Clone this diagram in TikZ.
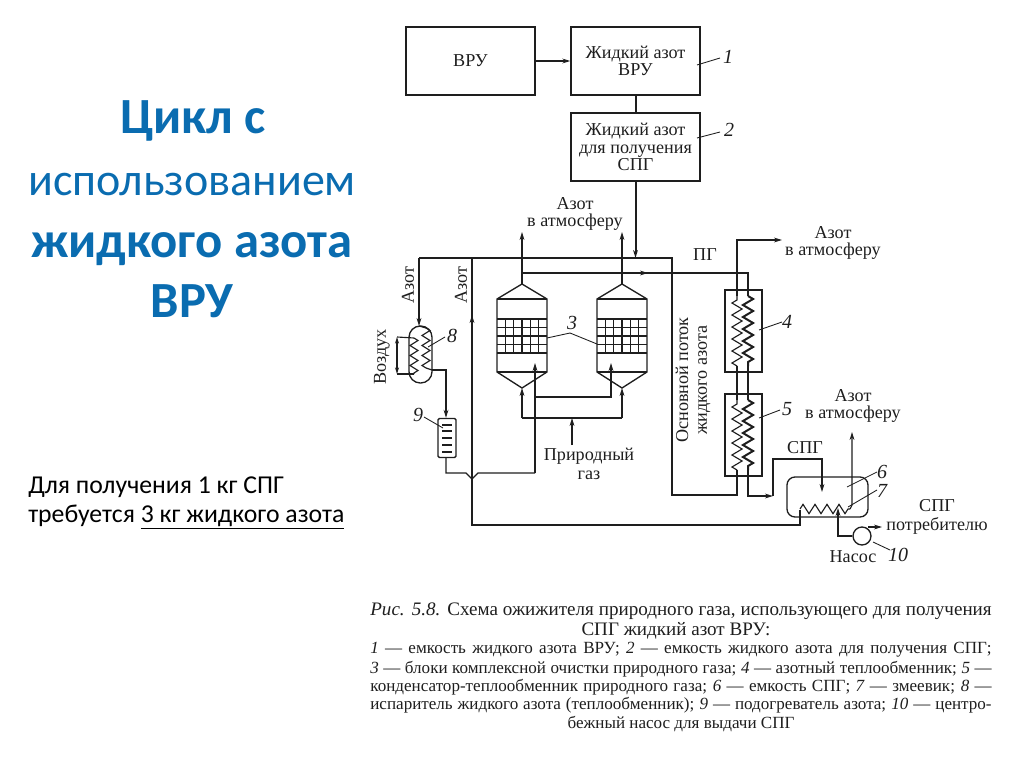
\documentclass[tikz,border=0pt]{standalone}
\usepackage{fontspec}
\setmainfont{Liberation Serif}
\newfontfamily\slidefont{Carlito}
\usepackage{tikz}
\usetikzlibrary{arrows.meta, calc, decorations.pathmorphing}
\definecolor{headblue}{RGB}{10, 108, 176}
\definecolor{scanink}{RGB}{30, 30, 30}
\tikzset{
  headbold/.style={font=\slidefont\fontsize{38}{38}\bfseries\selectfont, text=headblue, inner sep=0pt, anchor=base},
  headthin/.style={font=\slidefont\fontsize{34.5}{36}\selectfont, text=headblue, inner sep=0pt, anchor=base},
  notetext/.style={font=\slidefont\fontsize{19.3}{20}\selectfont, text=black, anchor=west, inner sep=0pt},
  blockbox/.style={draw=scanink, line width=1pt, minimum width=96.75pt, minimum height=51pt,
    align=center, font=\fontsize{13.6}{13}\selectfont, text=scanink, inner sep=0pt},
  pipe/.style={draw=scanink, line width=0.85pt},
  thickpipe/.style={draw=scanink, line width=1.5pt},
  flow/.style={-{Stealth[length=6pt,width=3.6pt]}},
  coil/.style={decorate, decoration={zigzag, segment length=9pt, amplitude=3.8pt}},
  leader/.style={draw=scanink, line width=0.65pt},
  lbl/.style={font=\fontsize{13.6}{13}\selectfont, text=scanink, align=center, inner sep=0pt},
  numlbl/.style={font=\fontsize{15}{15}\itshape\selectfont, text=scanink, inner sep=0pt},
  capline/.style={font=\fontsize{12.8}{13}\selectfont, text=scanink, inner sep=0pt},
  caphead/.style={font=\fontsize{14.3}{14}\selectfont, text=scanink, inner sep=0pt},
}
\begin{document}
\begin{tikzpicture}[x=0.75pt, y=-0.75pt]
  \useasboundingbox (0,0) rectangle (1024,767);

  % заголовок слева
  \node[headbold] (head1) at (193,133) {Цикл с};
  \node[headthin] (head2) at (192,195) {использованием};
  \node[headbold] (head3) at (192,257) {жидкого азота};
  \node[headbold] (head4) at (192,317) {ВРУ};
  \node[notetext] (note1) at (28,487) {Для получения 1 кг СПГ};
  \node[notetext] (note2) at (28,517) {требуется \underline{3 кг жидкого азота}};

  % блоки вверху
  \node[blockbox] (vru) at (470.5,61) {ВРУ};
  \node[blockbox] (tankone) at (635.5,61) {Жидкий азот\\[-0.5pt]ВРУ};
  \node[blockbox] (tanktwo) at (635.5,147) {Жидкий азот\\для получения\\СПГ};
  \draw[pipe, flow] (vru) -- (tankone);
  \draw[thickpipe] (tankone) -- (tanktwo);

  % теплообменники 4 и 5
  \node[draw=scanink, line width=1pt, minimum width=27.75pt, minimum height=61.5pt, inner sep=0pt] (hxfour) at (743.5,331) {};
  \node[draw=scanink, line width=1pt, minimum width=27.75pt, minimum height=61.5pt, inner sep=0pt] (hxfive) at (743.5,435) {};

  % магистрали
  \coordinate (topleft) at (419,258);
  \coordinate (topmid) at (472,258);
  \coordinate (topright) at (672,258);
  \coordinate (forkmid) at (472,479);
  \draw[pipe] (topleft) -- (topright) -- (672,495) -- (737,495) -- (737,476);
  \draw[thickpipe, flow] (tanktwo) -- (635.5,258);
  \draw[pipe] (topmid) -- (forkmid);
  \draw[pipe, flow] (472,400) -- (472,315);
  \draw[pipe] (forkmid) -- (472,525) -- (800,525) -- (800,510);

  % блоки очистки 3
  \foreach \cx/\cname in {522/colA, 622/colB}{
    \draw[pipe, line width=1pt] (\cx,284) -- (\cx+25,299) -- (\cx+25,372) -- (\cx,388) -- (\cx-25,372) -- (\cx-25,299) -- cycle;
    \draw[pipe] (\cx-25,299) -- (\cx+25,299);
    \draw[pipe] (\cx-25,372) -- (\cx+25,372);
    \foreach \gy in {319,327.5,336,344.5,353}
      \draw[pipe, line width=1pt] (\cx-25,\gy) -- (\cx+25,\gy);
    \foreach \gx in {-16.7,-8.3,0,8.3,16.7}
      \draw[pipe] (\cx+\gx,319) -- (\cx+\gx,353);
    \coordinate (\cname top) at (\cx,284);
    \coordinate (\cname bot) at (\cx,388);
    \coordinate (\cname out) at (\cx,232);
    \coordinate (\cname gas) at (\cx,418);
    \draw[pipe, flow] (\cname top) -- (\cname out);
    \draw[thickpipe, flow] (\cname gas) -- (\cname bot);
  }
  \draw[thickpipe] (colAgas) -- (colBgas);
  \coordinate (gasin) at (572,445);
  \draw[thickpipe, flow] (gasin) -- (572,418);

  % ПГ к теплообменникам
  \draw[thickpipe] (522,273) -- (748,273) -- (748,290);
  \draw[pipe, flow] (640,273) -- (648,273);
  \draw[thickpipe] (748,290) -- (748,296);
  \draw[thickpipe, coil] (748,296) -- (748,366);
  \draw[thickpipe] (748,366) -- (748,400);
  \draw[thickpipe, coil] (748,400) -- (748,470);
  \draw[thickpipe, flow] (748,470) -- (748,496) -- (773,496);
  \draw[thickpipe, flow] (773,496) -- (773,459) -- (822,459) -- (822,492);

  % азот через 5 и 4
  \draw[pipe] (737,476) -- (737,470);
  \draw[pipe, coil] (737,470) -- (737,400);
  \draw[pipe] (737,400) -- (737,366);
  \draw[pipe, coil] (737,366) -- (737,296);
  \draw[pipe, flow] (737,296) -- (737,240) -- (782,240);

  % регенерация внутри блоков
  \coordinate (heaterout) at (446,458);
  \draw[pipe] (heaterout) -- (446,473) -- (466,473) -- (forkmid) -- (478,473) -- (535,473);
  \draw[pipe, flow] (535,473) -- (535,363);
  \draw[pipe, flow] (535,397) -- (611,397) -- (611,363);

  % испаритель 8
  \node[draw=scanink, line width=1pt, rounded corners=8.5pt, minimum width=17.25pt, minimum height=42.75pt, inner sep=0pt] (evap) at (420.5,354.5) {};
  \draw[pipe, flow] (topleft) -- (419,326);
  \draw[pipe, coil, decoration={segment length=7.5pt, amplitude=3pt}] (426,328) -- (426,368);
  \draw[pipe] (419,326) -- (426,328);
  \draw[pipe] (426,368) -- (432,370);
  \draw[pipe, coil, decoration={segment length=7.5pt, amplitude=3pt}] (414,338) -- (414,374);
  \draw[pipe] (397,337) -- (414,338);
  \draw[pipe] (397,374) -- (414,374);
  \draw[pipe, {Stealth[length=5pt,width=3pt]}-{Stealth[length=5pt,width=3pt]}] (397,337) -- (397,374);

  % подогреватель 9
  \node[draw=scanink, line width=1pt, rounded corners=1pt, minimum width=13.5pt, minimum height=29.25pt, inner sep=0pt] (heater) at (447,438) {};
  \foreach \hy in {425,431,438,445,452}
    \draw[pipe] (442,\hy) -- (452,\hy);
  \draw[pipe, flow] (432,370) -- (446,370) -- (heater.north -| 446,370);

  % емкость 6, змеевик 7, насос 10
  \node[draw=scanink, line width=1pt, rounded corners=6pt, minimum width=60.75pt, minimum height=30pt, inner sep=0pt] (tankspg) at (827.5,497) {};
  \draw[pipe, coil, decoration={segment length=9pt, amplitude=3.5pt}] (800,509) -- (850,509);
  \coordinate (ventspg) at (852,432);
  \draw[pipe, flow] (850,509) -- (852,505) -- (ventspg);
  \node[draw=scanink, line width=1pt, circle, minimum size=13.5pt, inner sep=0pt] (pump) at (862,536) {};
  \coordinate (pumpout) at (882,527);
  \draw[thickpipe, flow] (pump.west) -- (838,536) -- (838,508);
  \draw[pipe, flow] (868,527) -- (pumpout);

  % выноски
  \draw[leader] (697,65) -- (720,58);
  \draw[leader] (697,138) -- (720,132);
  \draw[leader] (547,338) -- (570,333) -- (597,344);
  \draw[leader] (759,330) -- (782,322);
  \draw[leader] (759,418) -- (780,410);
  \draw[leader] (847,487) -- (877,472);
  \draw[leader] (848,507) -- (877,490);
  \draw[leader] (428,347) -- (445,337);
  \draw[leader] (424,417) -- (443,428);
  \draw[leader] (873,542) -- (890,550);
  \node[numlbl] (n1) at (728,57) {1};
  \node[numlbl] (n2) at (729,130) {2};
  \node[numlbl] (n3) at (572,323) {3};
  \node[numlbl] (n4) at (787,322) {4};
  \node[numlbl] (n5) at (787,409) {5};
  \node[numlbl] (n6) at (882,472) {6};
  \node[numlbl] (n7) at (882,491) {7};
  \node[numlbl] (n8) at (452,336) {8};
  \node[numlbl] (n9) at (418,415) {9};
  \node[numlbl] (n10) at (898,555) {10};

  % подписи
  \node[lbl, rotate=90] (azotl) at (408,285) {Азот};
  \node[lbl, rotate=90] (azotm) at (461,285) {Азот};
  \node[lbl, rotate=90] (air) at (382,357) {Воздух};
  \node[lbl] (ventone) at (575,214) {Азот\\в атмосферу};
  \node[lbl] (venttwo) at (833,243) {Азот\\в атмосферу};
  \node[lbl] (ventthree) at (853,406) {Азот\\в атмосферу};
  \node[lbl] (ng) at (589,464) {Природный\\[1pt]газ};
  \node[lbl] (pg) at (705,255) {ПГ};
  \node[lbl, rotate=90] (mainflow) at (693,380) {Основной поток\\[1pt]жидкого азота};
  \node[lbl] (spg) at (805,448) {СПГ};
  \node[lbl] (consumer) at (937,517) {СПГ\\[1pt]потребителю};
  \node[lbl] (pumplbl) at (853,557) {Насос};

  % подпись к рисунку
  \node[caphead] (cap1) at (681,611) {\makebox[466pt][s]{\textit{Рис. 5.8.} Схема ожижителя природного газа, использующего для получения}};
  \node[caphead] (cap2) at (676,631) {СПГ жидкий азот ВРУ:};
  \node[capline] (cap3) at (681,650) {\makebox[466pt][s]{\textit{1} — емкость жидкого азота ВРУ; \textit{2} — емкость жидкого азота для получения СПГ;}};
  \node[capline] (cap4) at (681,669) {\makebox[466pt][s]{\textit{3} — блоки комплексной очистки природного газа; \textit{4} — азотный теплообменник; \textit{5} —}};
  \node[capline] (cap5) at (681,687) {\makebox[466pt][s]{конденсатор-теплообменник природного газа; \textit{6} — емкость СПГ; \textit{7} — змеевик; \textit{8} —}};
  \node[capline] (cap6) at (681,705) {\makebox[466pt][s]{испаритель жидкого азота (теплообменник); \textit{9} — подогреватель азота; \textit{10} — центро-}};
  \node[capline] (cap7) at (681,724) {бежный насос для выдачи СПГ};
\end{tikzpicture}
\end{document}
